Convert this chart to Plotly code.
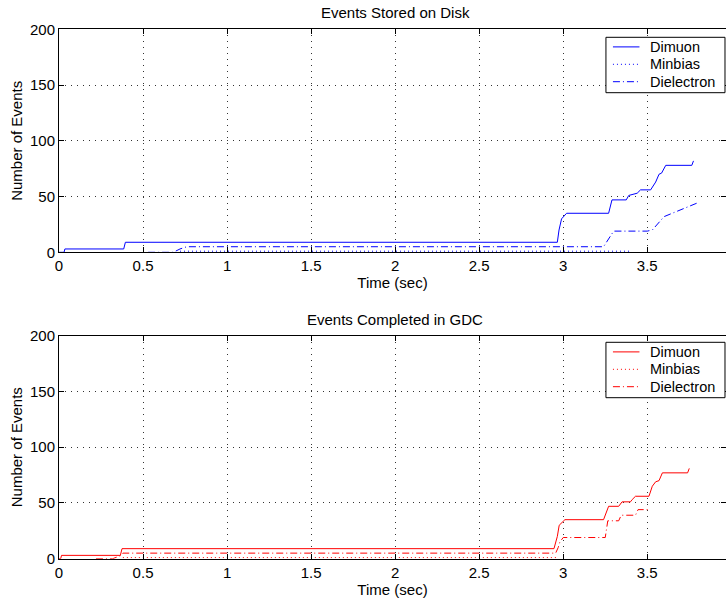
import plotly.graph_objects as go

# ---------------- data ----------------
disk_dimuon_t = [0.0, 0.03, 0.035, 0.385, 0.395, 2.965, 2.975, 2.99, 3.02, 3.27, 3.29,
                 3.375, 3.39, 3.44, 3.46, 3.52, 3.55, 3.57, 3.585, 3.61, 3.765, 3.775]
disk_dimuon_n = [0, 0, 3, 3, 9, 9, 20, 30, 35, 35, 47,
                 47, 51, 53, 56, 56, 63, 70, 71, 78, 78, 82]

disk_minbias_t = [0.72, 3.40]
disk_minbias_n = [1, 1]

disk_dielectron_t = [0.53, 0.68, 0.72, 0.76, 3.24, 3.28, 3.30, 3.50, 3.53, 3.60, 3.70, 3.76, 3.81]
disk_dielectron_n = [0, 0, 3, 5, 5, 15, 19, 19, 20, 32, 38, 42, 45]

gdc_dimuon_t = [0.0, 0.01, 0.015, 0.365, 0.375, 2.945, 2.965, 2.976, 3.01, 3.24, 3.27,
                3.33, 3.35, 3.40, 3.41, 3.43, 3.51, 3.53, 3.55, 3.57, 3.59, 3.74, 3.75]
gdc_dimuon_n = [0, 0, 3, 3, 9, 9, 20, 30, 35, 35, 47,
                47, 51, 51, 53, 56, 56, 65, 69, 70, 77, 77, 81]

gdc_minbias_t = [0.38, 2.97]
gdc_minbias_n = [1, 1]

gdc_dielectron_t = [0.22, 0.32, 0.37, 0.38, 2.955, 2.97, 2.98, 3.0, 3.25, 3.265,
                    3.33, 3.345, 3.43, 3.445, 3.52]
gdc_dielectron_n = [0, 0, 3, 5, 5, 10, 15, 19, 19, 34,
                    34, 39, 39, 44, 44]

x_ticks = [0, 0.5, 1, 1.5, 2, 2.5, 3, 3.5]
x_tick_labels = ["0", "0.5", "1", "1.5", "2", "2.5", "3", "3.5"]
y_ticks = [0, 50, 100, 150, 200]
series_names = ["Dimuon", "Minbias", "Dielectron"]
titles = ["Events Stored on Disk", "Events Completed in GDC"]

# ---------------- figure ----------------
W, H = 726, 603
FONT = "Liberation Sans, Arial, Helvetica, sans-serif"
FS = 15

LEFT, RIGHT = 59.3, 726.0


def px_x(px):
    return (px - LEFT) / (RIGHT - LEFT)


def px_y(py):
    return (H - py) / H


fig = go.Figure()

dashes = ["solid", "1px,3px", "7px,3px,1px,3px"]
panels = [
    ("#0000ff", [(disk_dimuon_t, disk_dimuon_n), (disk_minbias_t, disk_minbias_n),
                 (disk_dielectron_t, disk_dielectron_n)], "x", "y", 37.3),
    ("#ff0000", [(gdc_dimuon_t, gdc_dimuon_n), (gdc_minbias_t, gdc_minbias_n),
                 (gdc_dielectron_t, gdc_dielectron_n)], "x2", "y2", 342.3),
]
for color, series, xa, ya, leg_top in panels:
    for name, dash, (t, n) in zip(series_names, dashes, series):
        fig.add_trace(go.Scatter(x=t, y=n, mode="lines", name=name,
                                 line=dict(color=color, width=1, dash=dash),
                                 xaxis=xa, yaxis=ya, showlegend=False))
    # manual legend box (MATLAB style)
    fig.add_shape(type="rect", xref="paper", yref="paper",
                  x0=px_x(606), x1=px_x(725), y0=px_y(leg_top + 55.4), y1=px_y(leg_top),
                  line=dict(color="black", width=1), fillcolor="white", layer="above")
    for i, (name, dash) in enumerate(zip(series_names, dashes)):
        ry = leg_top + 9.6 + i * 17.4
        fig.add_shape(type="line", xref="paper", yref="paper",
                      x0=px_x(613), x1=px_x(639.5), y0=px_y(ry), y1=px_y(ry),
                      line=dict(color=color, width=1, dash=dash), layer="above")
        fig.add_annotation(text=name, xref="paper", yref="paper",
                           x=px_x(648.5), y=px_y(ry), xanchor="left", yanchor="middle",
                           showarrow=False,
                           font=dict(family=FONT, size=14.5, color="black"))

top_dom = [px_y(252.3), px_y(29.3)]
bot_dom = [px_y(558.7), px_y(335.7)]
xmax = (RIGHT - LEFT) / 168.0

axis_common = dict(
    showline=True, linecolor="black", linewidth=1, mirror="ticks",
    ticks="inside", ticklen=5, tickcolor="black", tickwidth=1,
    showgrid=True, gridcolor="#333333", gridwidth=1, griddash="1px,5px",
    zeroline=False, automargin=False,
    tickfont=dict(family=FONT, size=FS, color="black"),
)

fig.update_layout(
    width=W, height=H,
    margin=dict(l=LEFT, r=0, t=0, b=0, pad=0, autoexpand=False),
    paper_bgcolor="white", plot_bgcolor="white",
    font=dict(family=FONT, size=FS, color="black"),
    showlegend=False,
    xaxis=dict(domain=[0, 1], anchor="y", range=[0, xmax], tickvals=x_ticks,
               ticktext=x_tick_labels,
               title=dict(text="Time (sec)", standoff=2, font=dict(size=FS)),
               **axis_common),
    yaxis=dict(domain=top_dom, anchor="x", range=[0, 200], tickvals=y_ticks,
               title=dict(text="Number of Events", standoff=3, font=dict(size=FS)),
               **axis_common),
    xaxis2=dict(domain=[0, 1], anchor="y2", range=[0, xmax], tickvals=x_ticks,
                ticktext=x_tick_labels,
                title=dict(text="Time (sec)", standoff=2, font=dict(size=FS)),
                **axis_common),
    yaxis2=dict(domain=bot_dom, anchor="x2", range=[0, 200], tickvals=y_ticks,
                title=dict(text="Number of Events", standoff=3, font=dict(size=FS)),
                **axis_common),
)

for title, ydom, xref in zip(titles, [top_dom, bot_dom], ["x", "x2"]):
    fig.add_annotation(text=title, x=2.0, xref=xref, y=ydom[1], yref="paper",
                       yanchor="bottom", yshift=6, showarrow=False,
                       font=dict(family=FONT, size=FS, color="black"))

fig.write_html("out.html")
